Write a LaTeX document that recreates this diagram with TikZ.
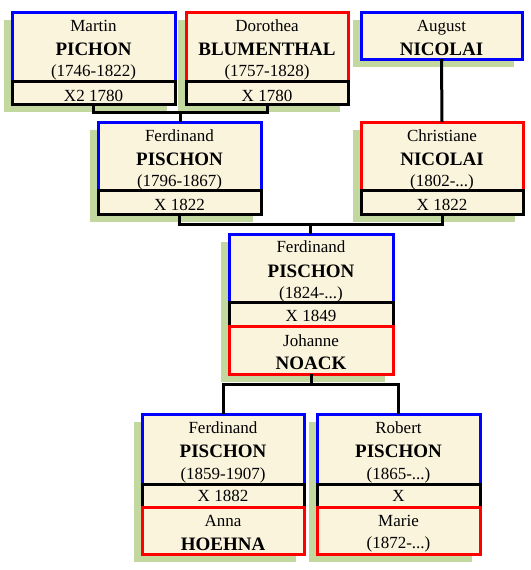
\documentclass[tikz,border=0pt]{standalone}
\usepackage{fontspec}
\setmainfont{Liberation Serif}
\usetikzlibrary{calc}
\definecolor{cream}{HTML}{FAF4DD}
\definecolor{shadowgreen}{HTML}{C3D89E}
\definecolor{pblue}{RGB}{0,0,255}
\definecolor{pred}{RGB}{255,0,0}
\newcommand\cellat[6]{\node[cell,draw=#6,minimum width={(#4-#2)*1pt},minimum height={(#5-#3)*1pt}] (#1) at ({(#2+#4)/2},{(#3+#5)/2}) {};}
\newcommand\shadowat[5]{\node[shadowbox,minimum width={(#4-#2)*1pt},minimum height={(#5-#3)*1pt}] (#1) at ({(#2+#4)/2-8},{(#3+#5)/2+8}) {};}
\begin{document}
\begin{tikzpicture}[x=1pt,y=-1pt,
 cell/.style={rectangle, line width=3pt, fill=cream, inner sep=0pt, outer sep=0pt},
 shadowbox/.style={rectangle, fill=shadowgreen, inner sep=0pt, outer sep=0pt, draw=none},
 conn/.style={draw=black, line width=3pt, line join=miter},
 txt/.style={anchor=base, inner sep=0pt, font=\fontsize{17}{20}\selectfont},
 boldtxt/.style={anchor=base, inner sep=0pt, font=\fontsize{19}{22}\selectfont\bfseries}]
\useasboundingbox (0,0) rectangle (530,570);
% shadows
\shadowat{smartin}{12}{12}{175}{104}
\shadowat{sdoro}{186}{12}{348}{104}
\shadowat{saug}{361}{12}{522}{59}
\shadowat{sf1}{98}{122}{261}{214}
\shadowat{schr}{361}{122}{523}{214}
\shadowat{sf2}{229}{234}{393}{374}
\shadowat{sf3}{142}{414}{304}{554}
\shadowat{srob}{317}{414}{480}{554}
% connectors (drawn after boxes are named below)
\path (0,0);
% boxes
\cellat{martin}{12}{12}{175}{81}{pblue}
\cellat{mmar}{12}{81}{175}{104}{black}
\cellat{doro}{186}{12}{348}{81}{pred}
\cellat{dmar}{186}{81}{348}{104}{black}
\cellat{aug}{361}{12}{522}{59}{pblue}
\cellat{f1}{98}{122}{261}{190}{pblue}
\cellat{f1mar}{98}{190}{261}{214}{black}
\cellat{chr}{361}{122}{523}{190}{pred}
\cellat{chrmar}{361}{190}{523}{214}{black}
\cellat{f2}{229}{234}{393}{302}{pblue}
\cellat{f2mar}{229}{302}{393}{326}{black}
\cellat{joh}{229}{326}{393}{374}{pred}
\cellat{f3}{142}{414}{304}{484}{pblue}
\cellat{f3mar}{142}{484}{304}{507}{black}
\cellat{anna}{142}{507}{304}{554}{pred}
\cellat{rob}{317}{414}{480}{484}{pblue}
\cellat{robmar}{317}{484}{480}{507}{black}
\cellat{marie}{317}{507}{480}{554}{pred}
% connectors
\begin{scope}[on background layer/.style={}]
\draw[conn] (mmar.south) -- ++(0,8) -| (dmar.south);
\coordinate (j1) at ($(mmar.south)!0.5!(dmar.south)+(0,8)$);
\draw[conn] (j1) -- (j1 |- f1.north);
\draw[conn] (aug.south) -- (chr.north);
\draw[conn] (f1mar.south) -- ++(0,10) -| (chrmar.south);
\coordinate (j2) at ($(f1mar.south)!0.5!(chrmar.south)+(0,10)$);
\draw[conn] (j2) -- (j2 |- f2.north);
\draw[conn] (joh.south) -- ++(0,10.5) coordinate (j3);
\draw[conn] (f3.north) |- (j3) -| (rob.north);
\end{scope}
% texts
\node[txt] (t1) at (93.5,31) {Martin};
\node[boldtxt] (t2) at (93.5,55) {PICHON};
\node[txt] (t3) at (93.5,76) {(1746-1822)};
\node[txt] (t4) at (93.5,101) {X2 1780};
\node[txt] (t5) at (267,31) {Dorothea};
\node[boldtxt] (t6) at (267,55) {BLUMENTHAL};
\node[txt] (t7) at (267,76) {(1757-1828)};
\node[txt] (t8) at (267,101) {X 1780};
\node[txt] (t9) at (441.5,31) {August};
\node[boldtxt] (t10) at (441.5,55) {NICOLAI};
\node[txt] (t11) at (179.5,141.5) {Ferdinand};
\node[boldtxt] (t12) at (179.5,165) {PISCHON};
\node[txt] (t13) at (179.5,186) {(1796-1867)};
\node[txt] (t14) at (179.5,210) {X 1822};
\node[txt] (t15) at (442,141.5) {Christiane};
\node[boldtxt] (t16) at (442,165) {NICOLAI};
\node[txt] (t17) at (442,186) {(1802-...)};
\node[txt] (t18) at (442,210) {X 1822};
\node[txt] (t19) at (311,252.5) {Ferdinand};
\node[boldtxt] (t20) at (311,277) {PISCHON};
\node[txt] (t21) at (311,298.5) {(1824-...)};
\node[txt] (t22) at (311,321.5) {X 1849};
\node[txt] (t23) at (311,346) {Johanne};
\node[boldtxt] (t24) at (311,369) {NOACK};
\node[txt] (t25) at (223,433.5) {Ferdinand};
\node[boldtxt] (t26) at (223,457.5) {PISCHON};
\node[txt] (t27) at (223,479) {(1859-1907)};
\node[txt] (t28) at (223,501.5) {X 1882};
\node[txt] (t29) at (223,526.5) {Anna};
\node[boldtxt] (t30) at (223,550) {HOEHNA};
\node[txt] (t31) at (398.5,433.5) {Robert};
\node[boldtxt] (t32) at (398.5,457.5) {PISCHON};
\node[txt] (t33) at (398.5,479) {(1865-...)};
\node[txt] (t34) at (398.5,501.5) {X};
\node[txt] (t35) at (398.5,526.5) {Marie};
\node[txt] (t36) at (398.5,548) {(1872-...)};
\end{tikzpicture}
\end{document}
